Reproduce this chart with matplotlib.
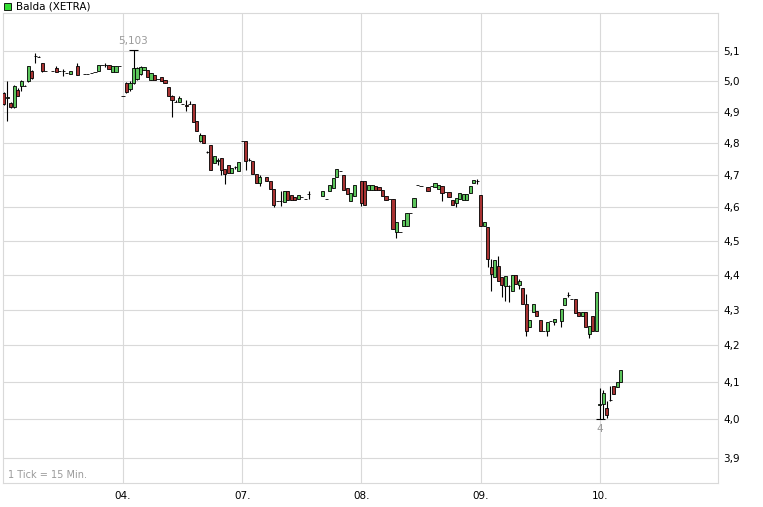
import matplotlib
matplotlib.use('Agg')
import matplotlib.pyplot as plt
from matplotlib.patches import Rectangle

# 15-minute candles, one row per candle: slot in day, open, high, low, close
day03 = [
    (0, 4.961, 4.965, 4.920, 4.923), (1, 4.945, 5.000, 4.869, 4.948),
    (2, 4.929, 4.932, 4.913, 4.916), (3, 4.916, 4.987, 4.913, 4.984),
    (4, 4.971, 4.978, 4.950, 4.952), (5, 4.984, 5.003, 4.968, 5.000),
    (6, 4.984, 4.986, 4.982, 4.984), (7, 5.000, 5.050, 4.997, 5.048),
    (8, 5.032, 5.035, 5.006, 5.010), (9, 5.084, 5.094, 5.061, 5.084),
    (10, 5.081, 5.082, 5.079, 5.080), (11, 5.058, 5.060, 5.030, 5.032),
    (12, 5.032, 5.032, 5.032, 5.032), (14, 5.032, 5.032, 5.032, 5.032),
    (15, 5.042, 5.048, 5.029, 5.029), (16, 5.032, 5.032, 5.032, 5.032),
    (17, 5.032, 5.039, 5.016, 5.032), (18, 5.026, 5.026, 5.026, 5.026),
    (19, 5.023, 5.032, 5.023, 5.032), (21, 5.048, 5.058, 5.019, 5.019),
    (23, 5.023, 5.023, 5.023, 5.023), (24, 5.023, 5.023, 5.023, 5.023),
    (25, 5.026, 5.026, 5.026, 5.026), (26, 5.029, 5.029, 5.029, 5.029),
    (27, 5.032, 5.052, 5.032, 5.052), (28, 5.052, 5.052, 5.052, 5.052),
    (29, 5.052, 5.061, 5.045, 5.052), (30, 5.052, 5.052, 5.039, 5.039),
    (31, 5.029, 5.048, 5.029, 5.048), (32, 5.029, 5.048, 5.029, 5.048),
    (33, 5.048, 5.048, 5.048, 5.048),
]
day04 = [
    (0, 4.952, 4.952, 4.952, 4.952), (1, 4.994, 4.997, 4.962, 4.965),
    (2, 4.975, 5.000, 4.968, 4.994), (3, 4.994, 5.103, 4.990, 5.042),
    (4, 5.006, 5.045, 5.003, 5.042), (5, 5.023, 5.048, 5.019, 5.045),
    (6, 5.035, 5.045, 5.035, 5.045), (7, 5.035, 5.035, 5.013, 5.013),
    (8, 5.003, 5.026, 5.003, 5.026), (9, 5.019, 5.019, 5.003, 5.003),
    (10, 5.006, 5.006, 5.006, 5.006), (11, 5.013, 5.013, 5.000, 5.000),
    (12, 5.003, 5.003, 4.994, 4.994), (13, 4.981, 4.981, 4.952, 4.952),
    (14, 4.952, 4.955, 4.884, 4.939), (15, 4.932, 4.939, 4.932, 4.932),
    (16, 4.932, 4.950, 4.932, 4.945), (17, 4.926, 4.926, 4.926, 4.926),
    (18, 4.920, 4.939, 4.903, 4.919), (19, 4.923, 4.935, 4.923, 4.923),
    (20, 4.923, 4.923, 4.866, 4.866), (21, 4.869, 4.869, 4.838, 4.838),
    (22, 4.806, 4.831, 4.803, 4.825), (23, 4.825, 4.825, 4.800, 4.800),
    (24, 4.772, 4.775, 4.769, 4.772), (25, 4.794, 4.794, 4.716, 4.716),
    (26, 4.738, 4.759, 4.738, 4.759), (27, 4.744, 4.753, 4.731, 4.745),
    (28, 4.753, 4.753, 4.700, 4.716), (29, 4.719, 4.719, 4.672, 4.703),
    (30, 4.731, 4.731, 4.706, 4.706), (31, 4.706, 4.722, 4.706, 4.722),
    (32, 4.725, 4.728, 4.719, 4.725), (33, 4.713, 4.741, 4.713, 4.741),
]
day07 = [
    (0, 4.806, 4.806, 4.806, 4.806), (1, 4.806, 4.806, 4.716, 4.744),
    (2, 4.747, 4.753, 4.744, 4.747), (3, 4.744, 4.744, 4.703, 4.703),
    (4, 4.703, 4.703, 4.675, 4.675), (5, 4.675, 4.700, 4.666, 4.694),
    (7, 4.694, 4.694, 4.681, 4.681), (8, 4.681, 4.681, 4.656, 4.656),
    (9, 4.656, 4.656, 4.600, 4.606), (10, 4.619, 4.619, 4.619, 4.619),
    (11, 4.619, 4.650, 4.603, 4.620), (12, 4.616, 4.650, 4.616, 4.650),
    (13, 4.650, 4.650, 4.622, 4.622), (14, 4.638, 4.638, 4.622, 4.622),
    (15, 4.631, 4.631, 4.622, 4.622), (16, 4.625, 4.638, 4.625, 4.638),
    (17, 4.631, 4.631, 4.631, 4.631), (18, 4.625, 4.625, 4.625, 4.625),
    (19, 4.641, 4.650, 4.625, 4.641), (23, 4.634, 4.650, 4.634, 4.650),
    (24, 4.625, 4.625, 4.625, 4.625), (25, 4.650, 4.669, 4.650, 4.669),
    (26, 4.659, 4.691, 4.659, 4.691), (27, 4.694, 4.719, 4.694, 4.719),
    (28, 4.713, 4.713, 4.713, 4.713), (29, 4.700, 4.700, 4.653, 4.653),
    (30, 4.659, 4.659, 4.641, 4.641), (31, 4.619, 4.644, 4.619, 4.644),
    (32, 4.634, 4.669, 4.634, 4.669),
]
day08 = [
    (0, 4.681, 4.681, 4.603, 4.613), (1, 4.681, 4.681, 4.606, 4.606),
    (2, 4.653, 4.669, 4.653, 4.669), (3, 4.653, 4.669, 4.653, 4.669),
    (4, 4.666, 4.666, 4.653, 4.653), (5, 4.663, 4.663, 4.653, 4.653),
    (6, 4.653, 4.653, 4.634, 4.634), (7, 4.634, 4.634, 4.622, 4.622),
    (8, 4.625, 4.625, 4.625, 4.625), (9, 4.625, 4.625, 4.536, 4.536),
    (10, 4.527, 4.555, 4.509, 4.555), (11, 4.527, 4.527, 4.527, 4.527),
    (12, 4.545, 4.561, 4.545, 4.561), (13, 4.545, 4.582, 4.545, 4.582),
    (14, 4.582, 4.582, 4.582, 4.582), (15, 4.600, 4.628, 4.600, 4.628),
    (16, 4.669, 4.669, 4.669, 4.669), (17, 4.666, 4.666, 4.666, 4.666),
    (19, 4.663, 4.663, 4.650, 4.650), (20, 4.666, 4.666, 4.666, 4.666),
    (21, 4.663, 4.675, 4.663, 4.675), (22, 4.656, 4.669, 4.656, 4.669),
    (23, 4.666, 4.666, 4.619, 4.644), (24, 4.647, 4.647, 4.647, 4.647),
    (25, 4.647, 4.647, 4.631, 4.631), (26, 4.622, 4.622, 4.606, 4.606),
    (27, 4.613, 4.628, 4.600, 4.628), (28, 4.625, 4.644, 4.625, 4.644),
    (29, 4.622, 4.641, 4.622, 4.641), (30, 4.622, 4.641, 4.622, 4.641),
    (31, 4.644, 4.666, 4.644, 4.666), (32, 4.675, 4.684, 4.675, 4.684),
    (33, 4.681, 4.688, 4.672, 4.681),
]
day09 = [
    (0, 4.638, 4.638, 4.545, 4.545), (1, 4.545, 4.555, 4.545, 4.555),
    (2, 4.542, 4.542, 4.424, 4.447), (3, 4.424, 4.447, 4.354, 4.403),
    (4, 4.394, 4.444, 4.394, 4.444), (5, 4.426, 4.456, 4.383, 4.383),
    (6, 4.394, 4.394, 4.337, 4.371), (7, 4.369, 4.397, 4.326, 4.397),
    (8, 4.369, 4.371, 4.323, 4.369), (9, 4.354, 4.400, 4.354, 4.400),
    (10, 4.400, 4.400, 4.374, 4.374), (11, 4.371, 4.389, 4.360, 4.383),
    (12, 4.363, 4.363, 4.317, 4.317), (13, 4.317, 4.346, 4.226, 4.240),
    (14, 4.251, 4.271, 4.251, 4.271), (15, 4.294, 4.317, 4.294, 4.317),
    (16, 4.297, 4.297, 4.283, 4.283), (17, 4.271, 4.271, 4.240, 4.240),
    (18, 4.240, 4.240, 4.240, 4.240), (19, 4.240, 4.266, 4.226, 4.266),
    (20, 4.269, 4.269, 4.269, 4.269), (21, 4.266, 4.274, 4.257, 4.274),
    (23, 4.269, 4.303, 4.251, 4.303), (24, 4.314, 4.334, 4.314, 4.334),
    (25, 4.343, 4.351, 4.337, 4.343), (26, 4.331, 4.331, 4.331, 4.331),
    (27, 4.331, 4.331, 4.291, 4.291), (28, 4.294, 4.294, 4.283, 4.283),
    (29, 4.283, 4.294, 4.283, 4.294), (30, 4.294, 4.294, 4.251, 4.251),
    (31, 4.231, 4.254, 4.220, 4.254), (32, 4.283, 4.283, 4.240, 4.240),
    (33, 4.240, 4.351, 4.240, 4.351),
]
day10 = [
    (0, 4.038, 4.084, 4.000, 4.040), (1, 4.041, 4.078, 4.000, 4.070),
    (2, 4.030, 4.049, 4.003, 4.011), (3, 4.051, 4.089, 4.049, 4.052),
    (4, 4.089, 4.089, 4.068, 4.068), (5, 4.086, 4.100, 4.086, 4.100),
    (6, 4.100, 4.132, 4.100, 4.132),
]

days = [day03, day04, day07, day08, day09, day10]
day_labels = ['03.', '04.', '07.', '08.', '09.', '10.']
slots_per_day = 34
y_ticks = [3.9, 4.0, 4.1, 4.2, 4.3, 4.4, 4.5, 4.6, 4.7, 4.8, 4.9, 5.0, 5.1]

green = '#5cc55c'
red = '#a83232'
grid_col = '#d9d9d9'
label_grey = '#9a9a9a'

fig = plt.figure(figsize=(7.63, 5.07), dpi=100)
ax = fig.add_axes([3 / 763, 24 / 507, 715 / 763, 470 / 507])
ax.set_yscale('log')

xs, highs, lows = [], [], []
for d, rows in enumerate(days):
    for s, o, h, l, c in rows:
        x = d * slots_per_day + s
        ax.vlines(x, l, h, color='black', lw=0.8, zorder=3)
        col = green if c >= o else red
        ax.bar(x, abs(c - o), bottom=min(o, c), width=0.9, color=col,
               edgecolor='black', linewidth=0.6, zorder=4)
        xs.append(x)
        highs.append(h)
        lows.append(l)

ax.set_ylim(3.836, 5.229)
ax.set_xlim(-0.22, 203.7)


def fmt(v):
    return f'{v:.3f}'.rstrip('0').rstrip('.').replace('.', ',')


# high / low markers
i_max = highs.index(max(highs))
i_min = lows.index(min(lows))
ax.hlines(highs[i_max], xs[i_max] - 1.2, xs[i_max] + 1.2, color='black', lw=0.8, zorder=3)
ax.annotate(fmt(highs[i_max]), (xs[i_max], highs[i_max]), xytext=(0, 3),
            textcoords='offset points', ha='center', va='bottom',
            fontsize=7.5, color=label_grey)
ax.hlines(lows[i_min], xs[i_min] - 1.2, xs[i_min] + 1.4, color='black', lw=0.8, zorder=3)
ax.annotate(fmt(lows[i_min]), (xs[i_min], lows[i_min]), xytext=(0, -3),
            textcoords='offset points', ha='center', va='top',
            fontsize=7.5, color=label_grey)

# axes, ticks and grid
ax.yaxis.tick_right()
ax.set_yticks(y_ticks)
ax.set_yticklabels([f'{v:.1f}'.replace('.', ',') for v in y_ticks])
ax.yaxis.set_minor_locator(plt.NullLocator())
ax.set_xticks([d * slots_per_day for d in range(1, len(days))])
ax.set_xticklabels(day_labels[1:])
ax.tick_params(axis='both', length=0, labelsize=7.5, colors='black')
ax.tick_params(axis='y', pad=4)
ax.tick_params(axis='x', pad=6)
ax.grid(True, color=grid_col, lw=0.8, zorder=0)
ax.set_axisbelow(True)
for sp in ax.spines.values():
    sp.set_color(grid_col)
    sp.set_linewidth(0.8)

ax.text(5 / 715, 0.016, '1 Tick = 15 Min.', transform=ax.transAxes,
        fontsize=7, color=label_grey, va='center', ha='left')

# legend
fig.patches.append(Rectangle((4 / 763, 1 - 10 / 507), 7 / 763, 7 / 507,
                             transform=fig.transFigure, facecolor='#33dd33',
                             edgecolor='black', linewidth=0.6))
fig.text(16 / 763, 1 - 6.5 / 507, 'Balda (XETRA)', fontsize=7.5, va='center', ha='left')

fig.savefig('out.png', dpi=100)
